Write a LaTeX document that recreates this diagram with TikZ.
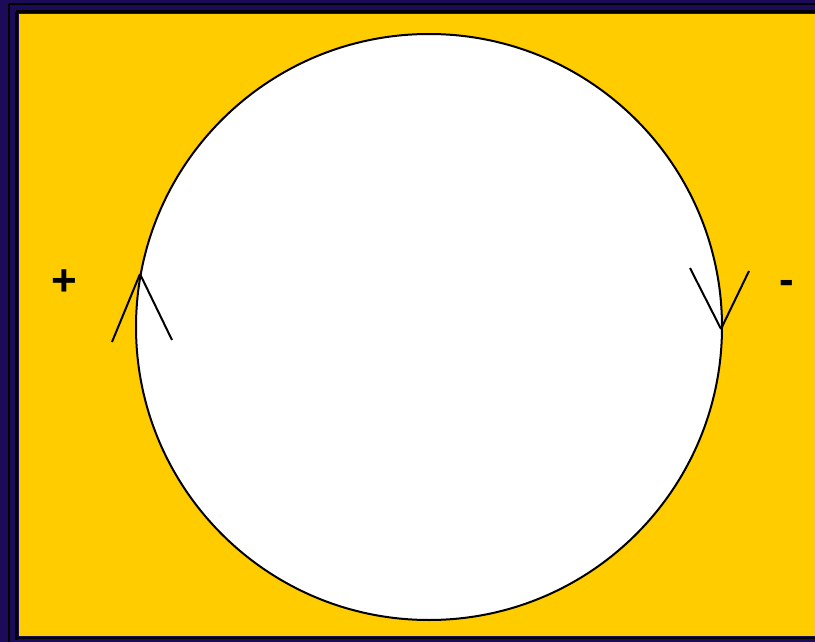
\documentclass[tikz,border=0pt]{standalone}
\usepackage{fontspec}
\setmainfont{Liberation Sans}
\definecolor{navy}{HTML}{1C0B58}
\definecolor{gold}{HTML}{FFCC00}
\tikzset{
  wire/.style={black, line width=2pt},
  sign/.style={font=\fontsize{44}{44}\selectfont\bfseries, inner sep=0pt}
}
\begin{document}
\begin{tikzpicture}[x=1pt,y=-1pt]
\useasboundingbox (0,0) rectangle (815,642);
\fill[navy] (0,0) rectangle (815,642);
\draw[black, line width=1.5pt] (9,4) -- (815,4);
\draw[black, line width=1.5pt] (9,4) -- (9,642);
\draw[black, line width=3pt] (16,12) -- (815,12);
\draw[black, line width=3pt] (16,12) -- (16,640);
\draw[black, line width=2pt] (16,638) -- (815,638);
\fill[gold] (19,14) rectangle (815,636);
\node[circle, draw=black, fill=white, line width=2pt, minimum size=586pt, inner sep=0pt] (c) at (429,327) {};
% arrow on left side (pointing up)
\coordinate (la) at (140,274);
\draw[wire] (la) -- (112,342);
\draw[wire] (la) -- (172,340);
% arrow on right side (pointing down)
\coordinate (ra) at (721,329);
\draw[wire] (ra) -- (690,268);
\draw[wire] (ra) -- (749,271);
\node[sign] (plus) at (64,283) {+};
\node[sign] (minus) at (787,287) {-};
\end{tikzpicture}
\end{document}
